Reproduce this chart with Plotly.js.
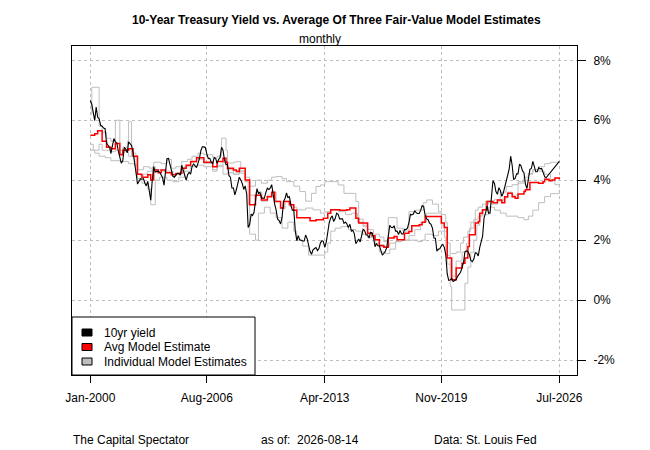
<!DOCTYPE html>
<html>
<head>
<meta charset="utf-8">
<script src="https://cdn.plot.ly/plotly-3.0.1.min.js"></script>
<style>
  html, body { margin: 0; padding: 0; background: #fff; }
  #plot { width: 650px; height: 450px; }
</style>
</head>
<body>
<div id="plot"></div>
<script>
// 10yr yield, monthly from Jan-2000 through Oct-2025
const yieldVals = [
  6.66, 6.52, 6.26, 5.99, 6.44, 6.10, 6.05, 5.83, 5.80, 5.74, 5.72, 5.24,
  5.16, 5.10, 4.89, 5.14, 5.39, 5.28, 5.24, 4.97, 4.73, 4.57, 4.65, 5.09,
  5.04, 4.91, 5.28, 5.21, 5.16, 4.93, 4.65, 4.26, 3.87, 3.94, 4.05, 4.03,
  4.05, 3.90, 3.81, 3.96, 3.57, 3.33, 3.98, 4.45, 4.27, 4.29, 4.30, 4.27,
  4.15, 4.08, 3.83, 4.35, 4.72, 4.73, 4.50, 4.28, 4.13, 4.10, 4.19, 4.23,
  4.22, 4.17, 4.50, 4.34, 4.14, 4.00, 4.18, 4.26, 4.20, 4.46, 4.54, 4.47,
  4.42, 4.57, 4.72, 4.99, 5.11, 5.11, 5.09, 4.88, 4.72, 4.73, 4.60, 4.56,
  4.76, 4.72, 4.56, 4.69, 4.75, 5.10, 5.00, 4.67, 4.52, 4.53, 4.15, 4.10,
  3.74, 3.74, 3.51, 3.68, 3.88, 4.10, 4.01, 3.89, 3.69, 3.81, 3.53, 2.42,
  2.52, 2.87, 2.82, 2.93, 3.29, 3.72, 3.56, 3.59, 3.40, 3.39, 3.40, 3.59,
  3.73, 3.69, 3.73, 3.85, 3.42, 3.20, 3.01, 2.70, 2.65, 2.54, 2.76, 3.29,
  3.39, 3.58, 3.41, 3.46, 3.17, 3.00, 3.00, 2.30, 1.98, 2.15, 2.01, 1.98,
  1.97, 1.97, 2.17, 2.05, 1.80, 1.62, 1.53, 1.68, 1.72, 1.75, 1.65, 1.72,
  1.91, 1.98, 1.96, 1.76, 1.93, 2.30, 2.58, 2.74, 2.81, 2.62, 2.72, 2.90,
  2.86, 2.71, 2.72, 2.71, 2.56, 2.60, 2.54, 2.42, 2.53, 2.30, 2.33, 2.21,
  1.88, 1.98, 2.04, 1.94, 2.20, 2.36, 2.32, 2.17, 2.17, 2.07, 2.26, 2.24,
  2.09, 1.78, 1.89, 1.81, 1.81, 1.64, 1.50, 1.56, 1.63, 1.76, 2.14, 2.49,
  2.43, 2.42, 2.48, 2.30, 2.30, 2.19, 2.32, 2.21, 2.20, 2.36, 2.35, 2.40,
  2.58, 2.86, 2.84, 2.87, 2.98, 2.91, 2.89, 2.89, 3.00, 3.15, 3.12, 2.83,
  2.71, 2.68, 2.57, 2.53, 2.40, 2.07, 2.06, 1.63, 1.70, 1.71, 1.81, 1.86,
  1.76, 1.50, 0.87, 0.66, 0.67, 0.73, 0.62, 0.65, 0.68, 0.79, 0.87, 0.93,
  1.08, 1.26, 1.61, 1.64, 1.62, 1.52, 1.32, 1.28, 1.37, 1.58, 1.56, 1.47,
  1.76, 1.93, 2.13, 2.75, 2.90, 3.14, 2.90, 2.90, 3.52, 3.98, 3.89, 3.62,
  3.53, 3.75, 3.66, 3.46, 3.57, 3.75, 3.90, 4.17, 4.38, 4.80, 4.50, 4.02,
  4.06, 4.21, 4.21, 4.54, 4.48, 4.31, 4.25, 3.87, 3.72, 4.10, 4.36, 4.39,
  4.63, 4.45, 4.28, 4.28, 4.42, 4.38, 4.39, 4.26, 4.12, 4.08
];
// last reading, Jul-2026
const yieldTailMonths = [318];
const yieldTailVals = [4.63];

// model estimates: month offset from Jan-2000 where a new value starts
const avgMonths = [0, 3, 5, 8, 11, 14, 17, 20, 22, 26, 29, 32, 35, 39, 41, 43, 46, 48, 51, 55, 58, 62, 65, 68, 72, 77, 83, 86, 90, 92, 93, 97, 99, 101, 105, 108, 112, 116, 120, 123, 125, 129, 131, 135, 138, 140, 149, 153, 158, 161, 163, 169, 174, 176, 180, 182, 188, 191, 193, 196, 199, 202, 206, 208, 213, 216, 218, 223, 225, 227, 236, 238, 240, 242, 245, 248, 252, 254, 256, 257, 261, 263, 264, 266, 269, 273, 276, 279, 281, 283, 286, 288, 290, 294, 295, 298, 304, 307, 308, 311, 313, 315, 318];
const avgVals = [5.50, 5.55, 5.65, 5.30, 5.10, 5.05, 5.22, 4.85, 5.00, 5.05, 4.80, 4.20, 4.10, 4.18, 4.01, 4.34, 4.25, 4.34, 4.25, 4.18, 4.22, 4.40, 4.50, 4.62, 4.75, 4.60, 4.45, 4.62, 4.73, 4.60, 4.40, 4.34, 4.29, 4.40, 4.01, 3.18, 3.50, 3.34, 3.45, 3.60, 3.29, 3.07, 3.29, 3.18, 3.00, 2.75, 2.65, 2.68, 2.73, 2.90, 3.01, 3.00, 3.01, 3.07, 2.73, 2.57, 2.23, 2.15, 2.01, 1.81, 1.76, 2.07, 2.12, 2.01, 2.23, 2.29, 2.48, 2.51, 2.60, 2.79, 2.79, 2.57, 2.42, 1.40, 0.68, 1.07, 1.23, 1.40, 1.79, 2.18, 2.57, 2.62, 2.90, 3.01, 3.29, 3.25, 3.34, 3.25, 3.45, 3.56, 3.45, 3.40, 3.54, 3.62, 3.68, 3.92, 3.90, 3.95, 4.03, 3.98, 4.01, 4.07, 4.03];

const modelAMonths = [0, 1, 6, 8, 11, 14, 17, 20, 22, 25, 26, 28, 30, 32, 36, 40, 43, 48, 52, 55, 58, 62, 66, 69, 73, 77, 83, 86, 89, 92, 93, 97, 99, 102, 105, 108, 112, 116, 120, 123, 126, 130, 133, 138, 142, 146, 150, 153, 156, 159, 168, 172, 180, 182, 185, 188, 192, 196, 199, 202, 208, 212, 216, 220, 226, 228, 232, 236, 238, 241, 242, 244, 248, 251, 253, 256, 258, 261, 263, 266, 270, 274, 278, 282, 286, 290, 294, 297, 300, 304, 308, 312, 318];
const modelAVals = [6.2, 7.1, 5.8, 5.6, 5.4, 5.3, 6.0, 5.0, 5.1, 5.3, 5.95, 4.8, 4.5, 4.35, 4.45, 4.4, 4.6, 4.55, 4.7, 4.4, 4.45, 4.62, 4.7, 4.8, 4.9, 4.85, 4.75, 4.8, 5.4, 5.0, 4.57, 4.6, 4.62, 4.23, 4.1, 3.8, 4.0, 3.9, 4.0, 4.1, 4.12, 4.05, 3.95, 3.8, 3.62, 3.3, 3.56, 3.79, 3.84, 3.95, 3.84, 3.56, 3.29, 2.7, 2.5, 2.35, 2.2, 2.1, 1.95, 2.75, 2.4, 2.3, 2.95, 3.0, 3.25, 3.34, 3.2, 2.95, 2.85, 2.6, 1.9, 1.55, 1.6, 1.9, 2.1, 2.3, 2.6, 3.0, 3.1, 3.2, 3.3, 3.35, 3.6, 3.79, 3.85, 3.95, 4.1, 4.23, 4.35, 4.45, 4.55, 4.6, 4.68];

const modelBMonths = [0, 2, 6, 8, 11, 14, 17, 20, 23, 26, 29, 31, 34, 36, 39, 42, 44, 48, 52, 56, 60, 64, 68, 72, 77, 83, 86, 90, 93, 97, 101, 105, 108, 112, 116, 120, 123, 126, 129, 132, 136, 140, 146, 151, 156, 159, 163, 168, 173, 177, 181, 185, 188, 193, 196, 199, 203, 207, 211, 216, 220, 224, 228, 234, 238, 240, 242, 245, 248, 252, 255, 257, 260, 263, 265, 268, 272, 276, 280, 283, 286, 290, 294, 297, 300, 304, 308, 312, 315, 318];
const modelBVals = [5.2, 5.0, 5.2, 5.0, 5.0, 4.95, 5.0, 4.9, 4.95, 4.8, 4.9, 4.2, 4.15, 4.2, 4.3, 4.45, 4.35, 4.3, 4.3, 4.2, 4.25, 4.45, 4.6, 4.7, 4.55, 4.35, 4.45, 4.6, 4.35, 4.2, 4.3, 3.95, 3.5, 3.6, 3.3, 3.5, 3.6, 3.3, 3.05, 3.3, 3.1, 3.01, 3.07, 3.01, 2.9, 2.95, 3.0, 2.95, 2.85, 2.9, 2.6, 2.45, 2.1, 2.0, 1.85, 1.8, 1.9, 1.95, 2.0, 2.15, 2.35, 2.6, 2.9, 2.9, 2.5, 2.3, 1.2, 0.8, 1.3, 1.6, 1.9, 2.4, 2.7, 2.8, 3.0, 3.3, 3.2, 3.3, 3.4, 3.6, 3.5, 3.9, 4.0, 4.2, 4.35, 4.3, 4.2, 4.0, 3.85, 3.75];

const modelCMonths = [0, 3, 6, 10, 14, 20, 26, 30, 32, 35, 39, 41, 44, 47, 52, 56, 60, 64, 68, 72, 77, 83, 86, 90, 93, 97, 101, 105, 107, 108, 112, 114, 118, 122, 126, 130, 134, 138, 140, 144, 148, 156, 159, 161, 163, 166, 170, 175, 180, 184, 188, 193, 196, 200, 203, 207, 211, 217, 222, 225, 227, 232, 236, 240, 241, 244, 245, 253, 254, 256, 258, 260, 262, 264, 266, 270, 274, 278, 282, 290, 294, 297, 300, 304, 308, 312, 318];
const modelCVals = [5.0, 4.9, 4.8, 4.75, 4.65, 4.62, 4.55, 4.5, 4.05, 3.9, 3.7, 3.18, 4.0, 4.1, 4.0, 3.95, 4.1, 4.3, 4.45, 4.5, 4.45, 4.3, 4.5, 4.2, 4.25, 4.2, 4.3, 3.95, 3.2, 2.2, 2.0, 2.9, 3.1, 2.9, 2.75, 2.4, 2.6, 2.3, 2.0, 1.8, 1.5, 1.5, 1.6, 1.9, 2.3, 2.4, 2.45, 2.35, 2.3, 2.2, 2.1, 1.9, 1.6, 1.55, 1.7, 1.95, 2.0, 2.0, 1.95, 2.0, 2.2, 2.15, 2.3, 2.1, 1.5, 0.45, -0.33, -0.33, 0.56, 1.1, 1.6, 2.0, 2.5, 2.8, 2.85, 3.1, 3.0, 2.9, 2.8, 2.75, 2.68, 2.8, 3.0, 3.25, 3.45, 3.55, 3.68];

const xTickDates = ["2000-01-01", "2006-08-01", "2013-04-01", "2019-11-01", "2026-07-01"];
const xTickLabels = ["Jan-2000", "Aug-2006", "Apr-2013", "Nov-2019", "Jul-2026"];
const yTickVals = [-2, 0, 2, 4, 6, 8];
const yTickLabels = ["-2%", "0%", "2%", "4%", "6%", "8%"];

const legendNames = ["10yr yield", "Avg Model Estimate", "Individual Model Estimates"];
const legendColors = ["#000000", "#ff0000", "#bebebe"];

function monthDate(m) {
  const y = 2000 + Math.floor(m / 12);
  const mo = (m % 12) + 1;
  return y + "-" + String(mo).padStart(2, "0") + "-01";
}

const FONT = "Liberation Sans, Arial, sans-serif";
const grayLine = { color: "#bebebe", width: 1, shape: "hv" };

function stepTrace(months, vals, line) {
  return {
    x: months.map(monthDate),
    y: vals,
    type: "scatter",
    mode: "lines",
    line: line,
    showlegend: false,
    hoverinfo: "skip",
  };
}

const yieldMonths = yieldVals.map((v, i) => i).concat(yieldTailMonths);
const yieldAll = yieldVals.concat(yieldTailVals);

const traces = [
  stepTrace(modelAMonths, modelAVals, grayLine),
  stepTrace(modelBMonths, modelBVals, grayLine),
  stepTrace(modelCMonths, modelCVals, grayLine),
  stepTrace(avgMonths, avgVals, { color: "#ff0000", width: 1.5, shape: "hv" }),
  {
    x: yieldMonths.map(monthDate),
    y: yieldAll,
    type: "scatter",
    mode: "lines",
    line: { color: "#000000", width: 1.1 },
    showlegend: false,
    hoverinfo: "skip",
  },
];

// plot box in pixels: left 72, right 577, top 46, bottom 375
const L = 72, R = 577, T = 46, B = 375;
const px = (x) => (x - L) / (R - L);
const py = (y) => (B - y) / (B - T);

const shapes = [
  {
    type: "rect", xref: "paper", yref: "paper", layer: "above",
    x0: 0, x1: px(255), y0: 0, y1: py(317),
    line: { color: "#000", width: 1 }, fillcolor: "#fff",
  },
];
const annotations = [
  { text: "<b>10-Year Treasury Yield vs. Average Of Three Fair-Value Model Estimates</b>",
    x: px(336), y: py(20), font: { size: 12 } },
  { text: "monthly", x: px(320), y: py(38.5), font: { size: 12 } },
  { text: "The Capital Spectator", x: px(71), y: py(439.5), xanchor: "left", font: { size: 12 } },
  { text: "as of:\u00a0\u00a02026-08-14", x: px(259), y: py(439.5), xanchor: "left", font: { size: 12 } },
  { text: "Data: St. Louis Fed", x: px(432), y: py(439.5), xanchor: "left", font: { size: 12 } },
];

const rowY = [332.5, 347, 361.5];
legendNames.forEach((name, i) => {
  shapes.push({
    type: "rect", xref: "paper", yref: "paper", layer: "above",
    x0: px(82), x1: px(92), y0: py(rowY[i] + 3.5), y1: py(rowY[i] - 3.5),
    line: { color: "#000", width: 1 }, fillcolor: legendColors[i],
  });
  annotations.push({
    text: name, x: px(102), y: py(rowY[i]), xanchor: "left", font: { size: 12 },
  });
});
annotations.forEach((a) => {
  a.xref = "paper"; a.yref = "paper"; a.showarrow = false;
  if (!a.xanchor) a.xanchor = "center";
  a.yanchor = "middle";
  a.font.family = FONT; a.font.color = "#000";
});

const layout = {
  width: 650,
  height: 450,
  margin: { l: L, r: 650 - R, t: T, b: 450 - B },
  paper_bgcolor: "#fff",
  plot_bgcolor: "#fff",
  font: { family: FONT, size: 12, color: "#000" },
  showlegend: false,
  xaxis: {
    type: "date",
    range: ["1998-12-19", "2027-07-01"],
    tickvals: xTickDates,
    ticktext: xTickLabels,
    ticks: "outside",
    ticklen: 7,
    tickcolor: "#000",
    ticklabelstandoff: 5,
    showline: true,
    linecolor: "#000",
    linewidth: 1,
    mirror: true,
    showgrid: true,
    gridcolor: "#bebebe",
    griddash: "dot",
    gridwidth: 1,
    zeroline: false,
    tickfont: { size: 12 },
  },
  yaxis: {
    side: "right",
    range: [-2.5, 8.477],
    tickvals: yTickVals,
    ticktext: yTickLabels,
    ticks: "outside",
    ticklen: 8,
    tickcolor: "#000",
    ticklabelstandoff: 5,
    showline: true,
    linecolor: "#000",
    linewidth: 1,
    mirror: true,
    showgrid: true,
    gridcolor: "#bebebe",
    griddash: "dot",
    gridwidth: 1,
    zeroline: false,
    tickfont: { size: 12 },
  },
  shapes: shapes,
  annotations: annotations,
};

Plotly.newPlot("plot", traces, layout, { displayModeBar: false, staticPlot: true });
</script>
</body>
</html>
